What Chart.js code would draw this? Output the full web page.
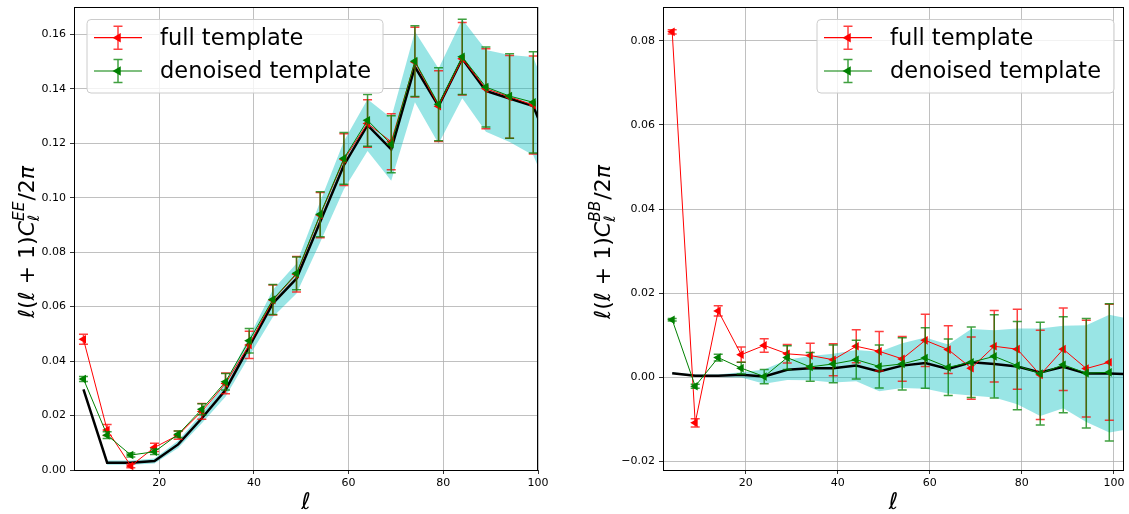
<!DOCTYPE html>
<html>
<head>
<meta charset="utf-8">
<script src="https://cdn.jsdelivr.net/npm/chart.js@4.4.1/dist/chart.umd.min.js"></script>
<style>
  html, body { margin: 0; padding: 0; background: #fff; }
  #wrap { position: relative; width: 1129px; height: 514px; }
  canvas { position: absolute; top: 0; }
  #eeChart { left: 0; }
  #bbChart { left: 560px; }
</style>
</head>
<body>
<div id="wrap">
  <canvas id="eeChart" width="560" height="514"></canvas>
  <canvas id="bbChart" width="569" height="514"></canvas>
</div>
<script>
// binned multipoles
const ell = [4, 9, 14, 19, 24, 29, 34, 39, 44, 49, 54, 59, 64, 69, 74, 79, 84, 89, 94, 99];
const ellTheory = [4, 9, 14, 19, 24, 29, 34, 39, 44, 49, 54, 59, 64, 69, 74, 79, 84, 89, 94, 99, 104];

// EE spectrum
const eeTheory = [0.0296, 0.0027, 0.0027, 0.0033, 0.0094, 0.0190, 0.0294, 0.0453, 0.0612, 0.0703, 0.0911, 0.1119, 0.1266, 0.1177, 0.1480, 0.1336, 0.1510, 0.1392, 0.1364, 0.1336, 0.1120];
const eeSigma = [0.0003, 0.0008, 0.0008, 0.0009, 0.0013, 0.0018, 0.0025, 0.0035, 0.0050, 0.0055, 0.0075, 0.0088, 0.0095, 0.0115, 0.0130, 0.0138, 0.0145, 0.0150, 0.0160, 0.0180, 0.0170];
const eeFull = [0.0480, 0.0147, 0.0015, 0.0083, 0.0128, 0.0215, 0.0318, 0.0459, 0.0624, 0.0719, 0.0936, 0.1140, 0.1272, 0.1205, 0.1498, 0.1336, 0.1510, 0.1400, 0.1370, 0.1340];
const eeFullErr = [0.0018, 0.0020, 0.0007, 0.0015, 0.0015, 0.0029, 0.0038, 0.0050, 0.0055, 0.0065, 0.0083, 0.0095, 0.0087, 0.0103, 0.0128, 0.0130, 0.0133, 0.0147, 0.0152, 0.0180];
const eeDenoised = [0.0334, 0.0128, 0.0055, 0.0067, 0.0131, 0.0223, 0.0324, 0.0475, 0.0626, 0.0722, 0.0939, 0.1144, 0.1284, 0.1196, 0.1501, 0.1343, 0.1517, 0.1406, 0.1373, 0.1350];
const eeDenoisedErr = [0.0009, 0.0012, 0.0007, 0.0010, 0.0012, 0.0020, 0.0030, 0.0045, 0.0055, 0.0060, 0.0083, 0.0095, 0.0095, 0.0105, 0.0130, 0.0134, 0.0138, 0.0147, 0.0155, 0.0186];

// BB spectrum
const bbTheory = [0.0010, 0.0004, 0.0004, 0.0006, 0.0002, 0.0018, 0.0022, 0.0022, 0.0028, 0.0014, 0.0028, 0.0034, 0.0020, 0.0036, 0.0032, 0.0026, 0.0012, 0.0025, 0.0009, 0.0009, 0.0008];
const bbSigma = [0.0002, 0.0003, 0.0003, 0.0006, 0.0017, 0.0024, 0.0029, 0.0034, 0.0037, 0.0047, 0.0053, 0.0061, 0.0058, 0.0079, 0.0080, 0.0090, 0.0104, 0.0098, 0.0115, 0.0140, 0.0130];
const bbFull = [0.0821, -0.0108, 0.0158, 0.0054, 0.0076, 0.0056, 0.0052, 0.0042, 0.0074, 0.0062, 0.0044, 0.0088, 0.0066, 0.0022, 0.0074, 0.0067, 0.0006, 0.0067, 0.0021, 0.0036];
const bbFullErr = [0.0005, 0.0010, 0.0012, 0.0018, 0.0016, 0.0022, 0.0029, 0.0038, 0.0039, 0.0047, 0.0053, 0.0062, 0.0057, 0.0074, 0.0085, 0.0095, 0.0106, 0.0098, 0.0115, 0.0138];
const bbDenoised = [0.0137, -0.0021, 0.0047, 0.0022, 0.0002, 0.0047, 0.0025, 0.0032, 0.0042, 0.0026, 0.0032, 0.0046, 0.0024, 0.0036, 0.0050, 0.0028, 0.0009, 0.0030, 0.0010, 0.0012];
const bbDenoisedErr = [0.0003, 0.0005, 0.0008, 0.0014, 0.0017, 0.0028, 0.0034, 0.0045, 0.0046, 0.0051, 0.0062, 0.0072, 0.0067, 0.0084, 0.0099, 0.0105, 0.0122, 0.0114, 0.0130, 0.0163];

// tick labels
const xTicks = [20, 40, 60, 80, 100];
const eeTicks = [0, 0.02, 0.04, 0.06, 0.08, 0.10, 0.12, 0.14, 0.16];
const bbTicks = [-0.02, 0, 0.02, 0.04, 0.06, 0.08];

const seriesNames = ['full template', 'denoised template'];

Chart.defaults.font.family = 'DejaVu Sans';

const RED = '#ff0000';
const GREEN = '#008000';
const RED_ERR = 'rgba(255,0,0,0.75)';
const GREEN_ERR = 'rgba(0,128,0,0.75)';
const MATH = '"DejaVu Sans"';

function pts(xs, ys) {
    return xs.map((x, i) => ({ x: x, y: ys[i] }));
}

// vertical error bars with caps, drawn under each series' markers
const errorBarPlugin = {
    id: 'errorBars',
    beforeDatasetDraw(chart, args) {
        const ds = chart.data.datasets[args.index];
        if (!ds.errors) return;
        const { ctx, chartArea: a, scales: { x, y } } = chart;
        ctx.save();
        ctx.beginPath();
        ctx.rect(a.left, a.top, a.right - a.left, a.bottom - a.top);
        ctx.clip();
        ctx.strokeStyle = ds.errorColor;
        ctx.lineWidth = 1.5;
        ds.data.forEach((p, i) => {
            const px = x.getPixelForValue(p.x);
            const top = y.getPixelForValue(p.y + ds.errors[i]);
            const bot = y.getPixelForValue(p.y - ds.errors[i]);
            ctx.beginPath();
            ctx.moveTo(px, top); ctx.lineTo(px, bot);
            ctx.moveTo(px - 4.5, top); ctx.lineTo(px + 4.5, top);
            ctx.moveTo(px - 4.5, bot); ctx.lineTo(px + 4.5, bot);
            ctx.stroke();
        });
        ctx.restore();
    }
};

function drawTriangleLeft(ctx, x, y, r, color) {
    ctx.fillStyle = color;
    ctx.beginPath();
    ctx.moveTo(x - r, y);
    ctx.lineTo(x + r * 0.5, y - r * 0.866);
    ctx.lineTo(x + r * 0.5, y + r * 0.866);
    ctx.closePath();
    ctx.fill();
}

// y label like l(l+1)C_l^{EE}/2pi
function drawMathLabel(ctx, cx, cy, sup, S) {
    const parts = [
        { t: '\u2113', it: true }, { t: '(' }, { t: '\u2113', it: true }, { t: ' + ' },
        { t: '1' }, { t: ')' }, { t: 'C', it: true }, { script: true },
        { t: '/' }, { t: '2' }, { t: '\u03c0', it: true }
    ];
    const s2 = S * 0.7;
    const font = (it, size) => (it ? 'italic ' : '') + size + 'px ' + MATH;
    ctx.save();
    let total = 0;
    parts.forEach(p => {
        if (p.script) {
            ctx.font = font(true, s2);
            p.w = Math.max(ctx.measureText(sup).width, ctx.measureText('\u2113').width) + 1;
        } else {
            ctx.font = font(p.it, S);
            p.w = ctx.measureText(p.t).width;
        }
        total += p.w;
    });
    ctx.translate(cx, cy);
    ctx.rotate(-Math.PI / 2);
    ctx.fillStyle = '#000';
    ctx.textBaseline = 'alphabetic';
    ctx.textAlign = 'left';
    let xx = -total / 2;
    const base = S * 0.35;
    parts.forEach(p => {
        if (p.script) {
            ctx.font = font(true, s2);
            ctx.fillText(sup, xx, base - S * 0.45);
            ctx.fillText('\u2113', xx, base + S * 0.22);
        } else {
            ctx.font = font(p.it, S);
            ctx.fillText(p.t, xx, base);
        }
        xx += p.w;
    });
    ctx.restore();
}

// frame, axis labels and legend
const decorPlugin = {
    id: 'decor',
    afterDraw(chart, args, o) {
        const { ctx, chartArea: a } = chart;
        ctx.save();
        ctx.strokeStyle = '#000';
        ctx.lineWidth = 1;
        ctx.strokeRect(Math.round(a.left) + 0.5, Math.round(a.top) + 0.5,
            Math.round(a.right - a.left) - 1, Math.round(a.bottom - a.top));

        // x label
        ctx.fillStyle = '#000';
        ctx.font = 'italic 23px ' + MATH;
        ctx.textAlign = 'center';
        ctx.textBaseline = 'alphabetic';
        ctx.fillText('\u2113', (a.left + a.right) / 2, 509);

        drawMathLabel(ctx, o.labelX, o.labelY, o.sup, 22);

        // legend
        const L = o.legend;
        ctx.fillStyle = 'rgba(255,255,255,0.8)';
        ctx.strokeStyle = '#cccccc';
        ctx.lineWidth = 1;
        ctx.beginPath();
        ctx.roundRect(L.x + 0.5, L.y + 0.5, L.w, L.h, 4);
        ctx.fill();
        ctx.stroke();
        const rows = [
            { name: seriesNames[0], c: RED, e: RED_ERR, y: L.y + 18.7 },
            { name: seriesNames[1], c: GREEN, e: GREEN_ERR, y: L.y + 52 }
        ];
        rows.forEach(r => {
            const hx = L.x + 7.5, hc = hx + 24;
            ctx.strokeStyle = r.c;
            ctx.lineWidth = 1.2;
            ctx.beginPath();
            ctx.moveTo(hx, r.y); ctx.lineTo(hx + 48, r.y);
            ctx.stroke();
            ctx.strokeStyle = r.e;
            ctx.lineWidth = 1.5;
            ctx.beginPath();
            ctx.moveTo(hc, r.y - 11.5); ctx.lineTo(hc, r.y + 11.5);
            ctx.moveTo(hc - 4.5, r.y - 11.5); ctx.lineTo(hc + 4.5, r.y - 11.5);
            ctx.moveTo(hc - 4.5, r.y + 11.5); ctx.lineTo(hc + 4.5, r.y + 11.5);
            ctx.stroke();
            drawTriangleLeft(ctx, hc, r.y, 5.5, r.c);
            ctx.fillStyle = '#000';
            ctx.font = '22.5px "DejaVu Sans"';
            ctx.textAlign = 'left';
            ctx.textBaseline = 'middle';
            ctx.fillText(r.name, L.x + 73.5, r.y + 1);
        });
        ctx.restore();
    }
};

function makeChart(id, c) {
    const lower = c.theory.map((v, i) => v - c.sigma[i]);
    const upper = c.theory.map((v, i) => v + c.sigma[i]);
    const yFmt = v => (v < -1e-9 ? '\u2212' + Math.abs(v).toFixed(2) : Math.abs(v).toFixed(2));
    return new Chart(document.getElementById(id), {
        type: 'line',
        data: {
            datasets: [
                { data: pts(ellTheory, lower), borderWidth: 0, pointRadius: 0, fill: false, order: 5 },
                { data: pts(ellTheory, upper), borderWidth: 0, pointRadius: 0, fill: '-1',
                  backgroundColor: 'rgba(0,191,191,0.4)', order: 5 },
                { data: pts(ellTheory, c.theory), borderColor: '#000', borderWidth: 2.5,
                  pointRadius: 0, fill: false, order: 3 },
                { label: seriesNames[0], data: pts(ell, c.full), errors: c.fullErr, errorColor: RED_ERR,
                  borderColor: RED, backgroundColor: RED, borderWidth: 1, pointStyle: 'triangle',
                  rotation: -90, pointRadius: 5, pointBorderWidth: 0, fill: false, order: 2 },
                { label: seriesNames[1], data: pts(ell, c.den), errors: c.denErr, errorColor: GREEN_ERR,
                  borderColor: GREEN, backgroundColor: GREEN, borderWidth: 1, pointStyle: 'triangle',
                  rotation: -90, pointRadius: 5, pointBorderWidth: 0, fill: false, order: 1 }
            ]
        },
        options: {
            responsive: false,
            animation: false,
            events: [],
            layout: { padding: { left: 0, right: c.padRight, top: 7, bottom: 0 } },
            scales: {
                x: {
                    type: 'linear', min: 2, max: c.xMax,
                    afterBuildTicks: s => { s.ticks = xTicks.map(v => ({ value: v })); },
                    afterFit: s => { s.height = 44; s.paddingLeft = 0; s.paddingRight = 0; },
                    grid: { color: '#b0b0b0', lineWidth: 0.8, tickColor: '#000', tickLength: 4, tickWidth: 0.8 },
                    border: { display: false },
                    ticks: { color: '#000', font: { size: 11 }, padding: 3, autoSkip: false, maxRotation: 0,
                             callback: v => String(v) }
                },
                y: {
                    type: 'linear', min: c.yMin, max: c.yMax,
                    afterBuildTicks: s => { s.ticks = c.yTicks.map(v => ({ value: v })); },
                    afterFit: s => { s.width = c.yAxisWidth; s.paddingTop = 0; s.paddingBottom = 0; },
                    grid: { color: '#b0b0b0', lineWidth: 0.8, tickColor: '#000', tickLength: 4, tickWidth: 0.8 },
                    border: { display: false },
                    ticks: { color: '#000', font: { size: 11 }, padding: 4, autoSkip: false, callback: yFmt }
                }
            },
            plugins: {
                legend: { display: false },
                tooltip: { enabled: false },
                decor: { labelX: c.labelX, labelY: 242, sup: c.sup, legend: c.legend }
            }
        },
        plugins: [errorBarPlugin, decorPlugin]
    });
}

makeChart('eeChart', {
    theory: eeTheory, sigma: eeSigma, full: eeFull, fullErr: eeFullErr, den: eeDenoised, denErr: eeDenoisedErr,
    xMax: 100, yMin: 0, yMax: 0.17, yTicks: eeTicks, yAxisWidth: 74, padRight: 22,
    sup: 'EE', labelX: 26, legend: { x: 86.5, y: 19, w: 296, h: 73.5 }
});

makeChart('bbChart', {
    theory: bbTheory, sigma: bbSigma, full: bbFull, fullErr: bbFullErr, den: bbDenoised, denErr: bbDenoisedErr,
    xMax: 102.2, yMin: -0.022, yMax: 0.088, yTicks: bbTicks, yAxisWidth: 103, padRight: 3,
    sup: 'BB', labelX: 42, legend: { x: 256.5, y: 19, w: 297, h: 73.5 }
});
</script>
</body>
</html>
